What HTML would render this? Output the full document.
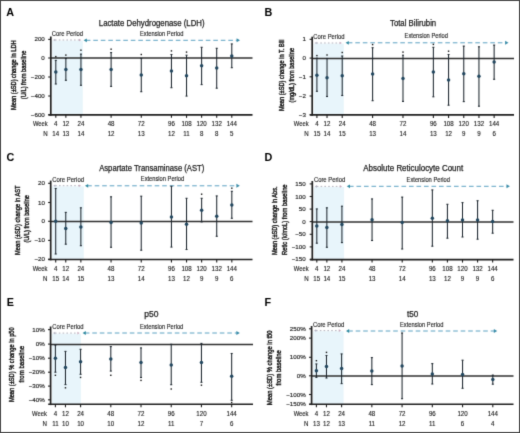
<!DOCTYPE html>
<html><head><meta charset="utf-8"><style>
html,body{margin:0;padding:0;background:#fff;}
body{width:520px;height:433px;overflow:hidden;}
svg{display:block;font-family:"Liberation Sans", sans-serif;will-change:transform;}
</style></head><body>
<svg width="520" height="433" viewBox="0 0 520 433">
<defs><filter id="bl" x="0" y="0" width="520" height="433" filterUnits="userSpaceOnUse" color-interpolation-filters="sRGB"><feConvolveMatrix order="3" kernelMatrix="0.0144 0.0912 0.0144 0.0912 0.5776 0.0912 0.0144 0.0912 0.0144" edgeMode="duplicate" preserveAlpha="true"/></filter></defs>
<g filter="url(#bl)">
<rect width="520" height="433" fill="#fff"/>
<rect x="0.5" y="0.5" width="519" height="432" fill="none" stroke="#444" stroke-width="1"/>
<text x="6.30" y="15.70" font-size="10.8" text-anchor="start" font-weight="bold" fill="#000">A</text>
<text x="98.80" y="25.60" font-size="8.2" text-anchor="start" font-weight="normal" fill="#202020" stroke="#202020" stroke-width="0.25" textLength="105.70" lengthAdjust="spacingAndGlyphs">Lactate Dehydrogenase (LDH)</text>
<rect x="52.30" y="40.60" width="30.50" height="74.25" fill="#e8f5fb"/>
<text transform="translate(15.68,75.20) rotate(-90)" x="0" y="0" font-size="7.8" font-weight="normal" text-anchor="middle" fill="#202020" stroke="#202020" stroke-width="0.45" textLength="69.60" lengthAdjust="spacingAndGlyphs">Mean (±SD) change in LDH</text>
<text transform="translate(25.98,74.90) rotate(-90)" x="0" y="0" font-size="7.8" font-weight="normal" text-anchor="middle" fill="#202020" stroke="#202020" stroke-width="0.45" textLength="48.50" lengthAdjust="spacingAndGlyphs">(U/L) from baseline</text>
<line x1="48.20" y1="39.40" x2="50.80" y2="39.40" stroke="#1e1e1e" stroke-width="1.1"/>
<text x="44.80" y="41.40" font-size="5.8" text-anchor="end" font-weight="normal" fill="#202020" stroke="#202020" stroke-width="0.15" textLength="10.35" lengthAdjust="spacingAndGlyphs">200</text>
<line x1="48.20" y1="58.00" x2="50.80" y2="58.00" stroke="#1e1e1e" stroke-width="1.1"/>
<text x="44.80" y="60.00" font-size="5.8" text-anchor="end" font-weight="normal" fill="#202020" stroke="#202020" stroke-width="0.15" textLength="3.45" lengthAdjust="spacingAndGlyphs">0</text>
<line x1="48.20" y1="77.00" x2="50.80" y2="77.00" stroke="#1e1e1e" stroke-width="1.1"/>
<text x="44.80" y="79.00" font-size="5.8" text-anchor="end" font-weight="normal" fill="#202020" stroke="#202020" stroke-width="0.15" textLength="13.98" lengthAdjust="spacingAndGlyphs">−200</text>
<line x1="48.20" y1="96.00" x2="50.80" y2="96.00" stroke="#1e1e1e" stroke-width="1.1"/>
<text x="44.80" y="98.00" font-size="5.8" text-anchor="end" font-weight="normal" fill="#202020" stroke="#202020" stroke-width="0.15" textLength="13.98" lengthAdjust="spacingAndGlyphs">−400</text>
<line x1="48.20" y1="114.70" x2="50.80" y2="114.70" stroke="#1e1e1e" stroke-width="1.1"/>
<text x="44.80" y="116.70" font-size="5.8" text-anchor="end" font-weight="normal" fill="#202020" stroke="#202020" stroke-width="0.15" textLength="13.98" lengthAdjust="spacingAndGlyphs">−600</text>
<text x="51.80" y="35.80" font-size="6.3" text-anchor="start" font-weight="normal" fill="#202020" stroke="#202020" stroke-width="0.12" textLength="31.30" lengthAdjust="spacingAndGlyphs">Core Period</text>
<text x="140.00" y="35.60" font-size="6.3" text-anchor="start" font-weight="normal" fill="#202020" stroke="#202020" stroke-width="0.12" textLength="43.40" lengthAdjust="spacingAndGlyphs">Extension Period</text>
<line x1="55.00" y1="40.00" x2="79.20" y2="40.00" stroke="#a8a8b4" stroke-width="0.9" stroke-dasharray="1.6,2.2"/>
<polygon points="53.00,40.00 55.20,38.68 55.20,41.32" fill="#b4b4c4"/>
<polygon points="81.20,40.00 79.00,38.68 79.00,41.32" fill="#c8a8bc"/>
<line x1="85.80" y1="40.30" x2="237.80" y2="40.30" stroke="#4896bb" stroke-width="0.9" stroke-dasharray="4.6,2.9"/>
<polygon points="83.60,40.30 86.80,38.38 86.80,42.22" fill="#2f8aa0"/>
<polygon points="240.00,40.30 236.60,38.26 236.60,42.34" fill="#3a8ca8"/>
<line x1="50.80" y1="58.00" x2="252.50" y2="58.00" stroke="#2e2e2e" stroke-width="1.5"/>
<line x1="50.80" y1="36.50" x2="50.80" y2="115.65" stroke="#1e1e1e" stroke-width="1.7"/>
<line x1="48.40" y1="114.85" x2="252.50" y2="114.85" stroke="#1e1e1e" stroke-width="1.6"/>
<line x1="55.80" y1="114.85" x2="55.80" y2="117.85" stroke="#1e1e1e" stroke-width="1.1"/>
<text x="55.80" y="126.40" font-size="6.3" text-anchor="middle" font-weight="normal" fill="#202020" stroke="#202020" stroke-width="0.12" textLength="3.43" lengthAdjust="spacingAndGlyphs">4</text>
<text x="55.80" y="135.90" font-size="6.3" text-anchor="middle" font-weight="normal" fill="#202020" stroke="#202020" stroke-width="0.12" textLength="6.87" lengthAdjust="spacingAndGlyphs">14</text>
<line x1="65.86" y1="114.85" x2="65.86" y2="117.85" stroke="#1e1e1e" stroke-width="1.1"/>
<text x="65.86" y="126.40" font-size="6.3" text-anchor="middle" font-weight="normal" fill="#202020" stroke="#202020" stroke-width="0.12" textLength="6.87" lengthAdjust="spacingAndGlyphs">12</text>
<text x="65.86" y="135.90" font-size="6.3" text-anchor="middle" font-weight="normal" fill="#202020" stroke="#202020" stroke-width="0.12" textLength="6.87" lengthAdjust="spacingAndGlyphs">13</text>
<line x1="80.94" y1="114.85" x2="80.94" y2="117.85" stroke="#1e1e1e" stroke-width="1.1"/>
<text x="80.94" y="126.40" font-size="6.3" text-anchor="middle" font-weight="normal" fill="#202020" stroke="#202020" stroke-width="0.12" textLength="6.87" lengthAdjust="spacingAndGlyphs">24</text>
<text x="80.94" y="135.90" font-size="6.3" text-anchor="middle" font-weight="normal" fill="#202020" stroke="#202020" stroke-width="0.12" textLength="6.87" lengthAdjust="spacingAndGlyphs">14</text>
<line x1="111.11" y1="114.85" x2="111.11" y2="117.85" stroke="#1e1e1e" stroke-width="1.1"/>
<text x="111.11" y="126.40" font-size="6.3" text-anchor="middle" font-weight="normal" fill="#202020" stroke="#202020" stroke-width="0.12" textLength="6.87" lengthAdjust="spacingAndGlyphs">48</text>
<text x="111.11" y="135.90" font-size="6.3" text-anchor="middle" font-weight="normal" fill="#202020" stroke="#202020" stroke-width="0.12" textLength="6.87" lengthAdjust="spacingAndGlyphs">12</text>
<line x1="141.28" y1="114.85" x2="141.28" y2="117.85" stroke="#1e1e1e" stroke-width="1.1"/>
<text x="141.28" y="126.40" font-size="6.3" text-anchor="middle" font-weight="normal" fill="#202020" stroke="#202020" stroke-width="0.12" textLength="6.87" lengthAdjust="spacingAndGlyphs">72</text>
<text x="141.28" y="135.90" font-size="6.3" text-anchor="middle" font-weight="normal" fill="#202020" stroke="#202020" stroke-width="0.12" textLength="6.87" lengthAdjust="spacingAndGlyphs">13</text>
<line x1="171.44" y1="114.85" x2="171.44" y2="117.85" stroke="#1e1e1e" stroke-width="1.1"/>
<text x="171.44" y="126.40" font-size="6.3" text-anchor="middle" font-weight="normal" fill="#202020" stroke="#202020" stroke-width="0.12" textLength="6.87" lengthAdjust="spacingAndGlyphs">96</text>
<text x="171.44" y="135.90" font-size="6.3" text-anchor="middle" font-weight="normal" fill="#202020" stroke="#202020" stroke-width="0.12" textLength="6.87" lengthAdjust="spacingAndGlyphs">12</text>
<line x1="186.53" y1="114.85" x2="186.53" y2="117.85" stroke="#1e1e1e" stroke-width="1.1"/>
<text x="186.53" y="126.40" font-size="6.3" text-anchor="middle" font-weight="normal" fill="#202020" stroke="#202020" stroke-width="0.12" textLength="10.30" lengthAdjust="spacingAndGlyphs">108</text>
<text x="186.53" y="135.90" font-size="6.3" text-anchor="middle" font-weight="normal" fill="#202020" stroke="#202020" stroke-width="0.12" textLength="6.41" lengthAdjust="spacingAndGlyphs">11</text>
<line x1="201.61" y1="114.85" x2="201.61" y2="117.85" stroke="#1e1e1e" stroke-width="1.1"/>
<text x="201.61" y="126.40" font-size="6.3" text-anchor="middle" font-weight="normal" fill="#202020" stroke="#202020" stroke-width="0.12" textLength="10.30" lengthAdjust="spacingAndGlyphs">120</text>
<text x="201.61" y="135.90" font-size="6.3" text-anchor="middle" font-weight="normal" fill="#202020" stroke="#202020" stroke-width="0.12" textLength="3.43" lengthAdjust="spacingAndGlyphs">8</text>
<line x1="216.70" y1="114.85" x2="216.70" y2="117.85" stroke="#1e1e1e" stroke-width="1.1"/>
<text x="216.70" y="126.40" font-size="6.3" text-anchor="middle" font-weight="normal" fill="#202020" stroke="#202020" stroke-width="0.12" textLength="10.30" lengthAdjust="spacingAndGlyphs">132</text>
<text x="216.70" y="135.90" font-size="6.3" text-anchor="middle" font-weight="normal" fill="#202020" stroke="#202020" stroke-width="0.12" textLength="3.43" lengthAdjust="spacingAndGlyphs">8</text>
<line x1="231.78" y1="114.85" x2="231.78" y2="117.85" stroke="#1e1e1e" stroke-width="1.1"/>
<text x="231.78" y="126.40" font-size="6.3" text-anchor="middle" font-weight="normal" fill="#202020" stroke="#202020" stroke-width="0.12" textLength="10.30" lengthAdjust="spacingAndGlyphs">144</text>
<text x="231.78" y="135.90" font-size="6.3" text-anchor="middle" font-weight="normal" fill="#202020" stroke="#202020" stroke-width="0.12" textLength="3.43" lengthAdjust="spacingAndGlyphs">5</text>
<text x="47.70" y="126.40" font-size="6.3" text-anchor="end" font-weight="normal" fill="#202020" stroke="#202020" stroke-width="0.12" textLength="14.80" lengthAdjust="spacingAndGlyphs">Week</text>
<text x="47.70" y="135.90" font-size="6.3" text-anchor="end" font-weight="normal" fill="#202020" stroke="#202020" stroke-width="0.12" textLength="4.46" lengthAdjust="spacingAndGlyphs">N</text>
<line x1="55.80" y1="60.40" x2="55.80" y2="84.00" stroke="#1d262e" stroke-width="1.05"/>
<line x1="54.80" y1="60.40" x2="56.80" y2="60.40" stroke="#1d262e" stroke-width="1.1"/>
<line x1="54.80" y1="84.00" x2="56.80" y2="84.00" stroke="#1d262e" stroke-width="1.1"/>
<rect x="55.10" y="55.90" width="1.4" height="1.4" fill="#111"/>
<circle cx="55.80" cy="72.00" r="1.75" fill="#22475f"/>
<line x1="65.86" y1="58.50" x2="65.86" y2="80.30" stroke="#1d262e" stroke-width="1.05"/>
<line x1="64.86" y1="58.50" x2="66.86" y2="58.50" stroke="#1d262e" stroke-width="1.1"/>
<line x1="64.86" y1="80.30" x2="66.86" y2="80.30" stroke="#1d262e" stroke-width="1.1"/>
<rect x="65.16" y="54.40" width="1.4" height="1.4" fill="#111"/>
<circle cx="65.86" cy="69.40" r="1.75" fill="#22475f"/>
<line x1="80.94" y1="54.10" x2="80.94" y2="85.30" stroke="#1d262e" stroke-width="1.05"/>
<line x1="79.94" y1="54.10" x2="81.94" y2="54.10" stroke="#1d262e" stroke-width="1.1"/>
<line x1="79.94" y1="85.30" x2="81.94" y2="85.30" stroke="#1d262e" stroke-width="1.1"/>
<rect x="80.24" y="49.50" width="1.4" height="1.4" fill="#111"/>
<circle cx="80.94" cy="69.60" r="1.75" fill="#22475f"/>
<line x1="111.11" y1="52.60" x2="111.11" y2="86.40" stroke="#1d262e" stroke-width="1.05"/>
<line x1="110.11" y1="52.60" x2="112.11" y2="52.60" stroke="#1d262e" stroke-width="1.1"/>
<line x1="110.11" y1="86.40" x2="112.11" y2="86.40" stroke="#1d262e" stroke-width="1.1"/>
<rect x="110.41" y="48.50" width="1.4" height="1.4" fill="#111"/>
<circle cx="111.11" cy="69.40" r="1.75" fill="#22475f"/>
<line x1="141.28" y1="58.40" x2="141.28" y2="91.70" stroke="#1d262e" stroke-width="1.05"/>
<line x1="140.28" y1="58.40" x2="142.28" y2="58.40" stroke="#1d262e" stroke-width="1.1"/>
<line x1="140.28" y1="91.70" x2="142.28" y2="91.70" stroke="#1d262e" stroke-width="1.1"/>
<rect x="140.58" y="53.80" width="1.4" height="1.4" fill="#111"/>
<circle cx="141.28" cy="75.00" r="1.75" fill="#22475f"/>
<line x1="171.44" y1="54.50" x2="171.44" y2="87.70" stroke="#1d262e" stroke-width="1.05"/>
<line x1="170.44" y1="54.50" x2="172.44" y2="54.50" stroke="#1d262e" stroke-width="1.1"/>
<line x1="170.44" y1="87.70" x2="172.44" y2="87.70" stroke="#1d262e" stroke-width="1.1"/>
<rect x="170.74" y="50.20" width="1.4" height="1.4" fill="#111"/>
<circle cx="171.44" cy="71.10" r="1.75" fill="#22475f"/>
<line x1="186.53" y1="55.20" x2="186.53" y2="96.10" stroke="#1d262e" stroke-width="1.05"/>
<line x1="185.53" y1="55.20" x2="187.53" y2="55.20" stroke="#1d262e" stroke-width="1.1"/>
<line x1="185.53" y1="96.10" x2="187.53" y2="96.10" stroke="#1d262e" stroke-width="1.1"/>
<rect x="185.83" y="51.40" width="1.4" height="1.4" fill="#111"/>
<circle cx="186.53" cy="75.70" r="1.75" fill="#22475f"/>
<line x1="201.61" y1="47.30" x2="201.61" y2="84.60" stroke="#1d262e" stroke-width="1.05"/>
<line x1="200.61" y1="47.30" x2="202.61" y2="47.30" stroke="#1d262e" stroke-width="1.1"/>
<line x1="200.61" y1="84.60" x2="202.61" y2="84.60" stroke="#1d262e" stroke-width="1.1"/>
<circle cx="201.61" cy="65.80" r="1.75" fill="#22475f"/>
<line x1="216.70" y1="48.30" x2="216.70" y2="88.20" stroke="#1d262e" stroke-width="1.05"/>
<line x1="215.70" y1="48.30" x2="217.70" y2="48.30" stroke="#1d262e" stroke-width="1.1"/>
<line x1="215.70" y1="88.20" x2="217.70" y2="88.20" stroke="#1d262e" stroke-width="1.1"/>
<circle cx="216.70" cy="68.00" r="1.75" fill="#22475f"/>
<line x1="231.78" y1="43.90" x2="231.78" y2="67.70" stroke="#1d262e" stroke-width="1.05"/>
<line x1="230.78" y1="43.90" x2="232.78" y2="43.90" stroke="#1d262e" stroke-width="1.1"/>
<line x1="230.78" y1="67.70" x2="232.78" y2="67.70" stroke="#1d262e" stroke-width="1.1"/>
<circle cx="231.78" cy="56.00" r="1.75" fill="#22475f"/>
<text x="264.50" y="15.80" font-size="10.8" text-anchor="start" font-weight="bold" fill="#000">B</text>
<text x="390.00" y="25.50" font-size="8.2" text-anchor="start" font-weight="normal" fill="#202020" stroke="#202020" stroke-width="0.25" textLength="46.20" lengthAdjust="spacingAndGlyphs">Total Bilirubin</text>
<rect x="313.70" y="43.60" width="30.10" height="71.30" fill="#e8f5fb"/>
<text transform="translate(283.88,75.20) rotate(-90)" x="0" y="0" font-size="7.8" font-weight="normal" text-anchor="middle" fill="#202020" stroke="#202020" stroke-width="0.45" textLength="71.60" lengthAdjust="spacingAndGlyphs">Mean (±SD) change in T. Bili</text>
<text transform="translate(293.68,75.20) rotate(-90)" x="0" y="0" font-size="7.8" font-weight="normal" text-anchor="middle" fill="#202020" stroke="#202020" stroke-width="0.45" textLength="54.50" lengthAdjust="spacingAndGlyphs">(mg/dL) from baseline</text>
<line x1="309.60" y1="39.30" x2="312.20" y2="39.30" stroke="#1e1e1e" stroke-width="1.1"/>
<text x="305.90" y="41.30" font-size="5.8" text-anchor="end" font-weight="normal" fill="#202020" stroke="#202020" stroke-width="0.15" textLength="3.45" lengthAdjust="spacingAndGlyphs">1</text>
<line x1="309.60" y1="58.10" x2="312.20" y2="58.10" stroke="#1e1e1e" stroke-width="1.1"/>
<text x="305.90" y="60.10" font-size="5.8" text-anchor="end" font-weight="normal" fill="#202020" stroke="#202020" stroke-width="0.15" textLength="3.45" lengthAdjust="spacingAndGlyphs">0</text>
<line x1="309.60" y1="76.80" x2="312.20" y2="76.80" stroke="#1e1e1e" stroke-width="1.1"/>
<text x="305.90" y="78.80" font-size="5.8" text-anchor="end" font-weight="normal" fill="#202020" stroke="#202020" stroke-width="0.15" textLength="7.08" lengthAdjust="spacingAndGlyphs">−1</text>
<line x1="309.60" y1="96.00" x2="312.20" y2="96.00" stroke="#1e1e1e" stroke-width="1.1"/>
<text x="305.90" y="98.00" font-size="5.8" text-anchor="end" font-weight="normal" fill="#202020" stroke="#202020" stroke-width="0.15" textLength="7.08" lengthAdjust="spacingAndGlyphs">−2</text>
<line x1="309.60" y1="114.70" x2="312.20" y2="114.70" stroke="#1e1e1e" stroke-width="1.1"/>
<text x="305.90" y="116.70" font-size="5.8" text-anchor="end" font-weight="normal" fill="#202020" stroke="#202020" stroke-width="0.15" textLength="7.08" lengthAdjust="spacingAndGlyphs">−3</text>
<text x="313.30" y="38.70" font-size="6.3" text-anchor="start" font-weight="normal" fill="#202020" stroke="#202020" stroke-width="0.12" textLength="31.30" lengthAdjust="spacingAndGlyphs">Core Period</text>
<text x="404.60" y="38.20" font-size="6.3" text-anchor="start" font-weight="normal" fill="#202020" stroke="#202020" stroke-width="0.12" textLength="43.40" lengthAdjust="spacingAndGlyphs">Extension Period</text>
<line x1="316.50" y1="43.00" x2="339.80" y2="43.00" stroke="#a8a8b4" stroke-width="0.9" stroke-dasharray="1.6,2.2"/>
<polygon points="314.50,43.00 316.70,41.68 316.70,44.32" fill="#b4b4c4"/>
<polygon points="341.80,43.00 339.60,41.68 339.60,44.32" fill="#c8a8bc"/>
<line x1="347.80" y1="42.80" x2="506.30" y2="42.80" stroke="#4896bb" stroke-width="0.9" stroke-dasharray="4.6,2.9"/>
<polygon points="345.60,42.80 348.80,40.88 348.80,44.72" fill="#2f8aa0"/>
<polygon points="508.50,42.80 505.10,40.76 505.10,44.84" fill="#3a8ca8"/>
<line x1="312.20" y1="58.50" x2="514.00" y2="58.50" stroke="#2e2e2e" stroke-width="1.5"/>
<line x1="312.20" y1="36.70" x2="312.20" y2="115.70" stroke="#1e1e1e" stroke-width="1.7"/>
<line x1="309.80" y1="114.90" x2="514.00" y2="114.90" stroke="#1e1e1e" stroke-width="1.6"/>
<line x1="316.90" y1="114.90" x2="316.90" y2="117.90" stroke="#1e1e1e" stroke-width="1.1"/>
<text x="316.90" y="126.40" font-size="6.3" text-anchor="middle" font-weight="normal" fill="#202020" stroke="#202020" stroke-width="0.12" textLength="3.43" lengthAdjust="spacingAndGlyphs">4</text>
<text x="316.90" y="135.90" font-size="6.3" text-anchor="middle" font-weight="normal" fill="#202020" stroke="#202020" stroke-width="0.12" textLength="6.87" lengthAdjust="spacingAndGlyphs">15</text>
<line x1="327.03" y1="114.90" x2="327.03" y2="117.90" stroke="#1e1e1e" stroke-width="1.1"/>
<text x="327.03" y="126.40" font-size="6.3" text-anchor="middle" font-weight="normal" fill="#202020" stroke="#202020" stroke-width="0.12" textLength="6.87" lengthAdjust="spacingAndGlyphs">12</text>
<text x="327.03" y="135.90" font-size="6.3" text-anchor="middle" font-weight="normal" fill="#202020" stroke="#202020" stroke-width="0.12" textLength="6.87" lengthAdjust="spacingAndGlyphs">14</text>
<line x1="342.22" y1="114.90" x2="342.22" y2="117.90" stroke="#1e1e1e" stroke-width="1.1"/>
<text x="342.22" y="126.40" font-size="6.3" text-anchor="middle" font-weight="normal" fill="#202020" stroke="#202020" stroke-width="0.12" textLength="6.87" lengthAdjust="spacingAndGlyphs">24</text>
<text x="342.22" y="135.90" font-size="6.3" text-anchor="middle" font-weight="normal" fill="#202020" stroke="#202020" stroke-width="0.12" textLength="6.87" lengthAdjust="spacingAndGlyphs">15</text>
<line x1="372.60" y1="114.90" x2="372.60" y2="117.90" stroke="#1e1e1e" stroke-width="1.1"/>
<text x="372.60" y="126.40" font-size="6.3" text-anchor="middle" font-weight="normal" fill="#202020" stroke="#202020" stroke-width="0.12" textLength="6.87" lengthAdjust="spacingAndGlyphs">48</text>
<text x="372.60" y="135.90" font-size="6.3" text-anchor="middle" font-weight="normal" fill="#202020" stroke="#202020" stroke-width="0.12" textLength="6.87" lengthAdjust="spacingAndGlyphs">13</text>
<line x1="402.99" y1="114.90" x2="402.99" y2="117.90" stroke="#1e1e1e" stroke-width="1.1"/>
<text x="402.99" y="126.40" font-size="6.3" text-anchor="middle" font-weight="normal" fill="#202020" stroke="#202020" stroke-width="0.12" textLength="6.87" lengthAdjust="spacingAndGlyphs">72</text>
<text x="402.99" y="135.90" font-size="6.3" text-anchor="middle" font-weight="normal" fill="#202020" stroke="#202020" stroke-width="0.12" textLength="6.87" lengthAdjust="spacingAndGlyphs">14</text>
<line x1="433.37" y1="114.90" x2="433.37" y2="117.90" stroke="#1e1e1e" stroke-width="1.1"/>
<text x="433.37" y="126.40" font-size="6.3" text-anchor="middle" font-weight="normal" fill="#202020" stroke="#202020" stroke-width="0.12" textLength="6.87" lengthAdjust="spacingAndGlyphs">96</text>
<text x="433.37" y="135.90" font-size="6.3" text-anchor="middle" font-weight="normal" fill="#202020" stroke="#202020" stroke-width="0.12" textLength="6.87" lengthAdjust="spacingAndGlyphs">13</text>
<line x1="448.56" y1="114.90" x2="448.56" y2="117.90" stroke="#1e1e1e" stroke-width="1.1"/>
<text x="448.56" y="126.40" font-size="6.3" text-anchor="middle" font-weight="normal" fill="#202020" stroke="#202020" stroke-width="0.12" textLength="10.30" lengthAdjust="spacingAndGlyphs">108</text>
<text x="448.56" y="135.90" font-size="6.3" text-anchor="middle" font-weight="normal" fill="#202020" stroke="#202020" stroke-width="0.12" textLength="6.87" lengthAdjust="spacingAndGlyphs">12</text>
<line x1="463.76" y1="114.90" x2="463.76" y2="117.90" stroke="#1e1e1e" stroke-width="1.1"/>
<text x="463.76" y="126.40" font-size="6.3" text-anchor="middle" font-weight="normal" fill="#202020" stroke="#202020" stroke-width="0.12" textLength="10.30" lengthAdjust="spacingAndGlyphs">120</text>
<text x="463.76" y="135.90" font-size="6.3" text-anchor="middle" font-weight="normal" fill="#202020" stroke="#202020" stroke-width="0.12" textLength="3.43" lengthAdjust="spacingAndGlyphs">9</text>
<line x1="478.95" y1="114.90" x2="478.95" y2="117.90" stroke="#1e1e1e" stroke-width="1.1"/>
<text x="478.95" y="126.40" font-size="6.3" text-anchor="middle" font-weight="normal" fill="#202020" stroke="#202020" stroke-width="0.12" textLength="10.30" lengthAdjust="spacingAndGlyphs">132</text>
<text x="478.95" y="135.90" font-size="6.3" text-anchor="middle" font-weight="normal" fill="#202020" stroke="#202020" stroke-width="0.12" textLength="3.43" lengthAdjust="spacingAndGlyphs">9</text>
<line x1="494.14" y1="114.90" x2="494.14" y2="117.90" stroke="#1e1e1e" stroke-width="1.1"/>
<text x="494.14" y="126.40" font-size="6.3" text-anchor="middle" font-weight="normal" fill="#202020" stroke="#202020" stroke-width="0.12" textLength="10.30" lengthAdjust="spacingAndGlyphs">144</text>
<text x="494.14" y="135.90" font-size="6.3" text-anchor="middle" font-weight="normal" fill="#202020" stroke="#202020" stroke-width="0.12" textLength="3.43" lengthAdjust="spacingAndGlyphs">6</text>
<text x="308.60" y="126.40" font-size="6.3" text-anchor="end" font-weight="normal" fill="#202020" stroke="#202020" stroke-width="0.12" textLength="14.80" lengthAdjust="spacingAndGlyphs">Week</text>
<text x="308.60" y="135.90" font-size="6.3" text-anchor="end" font-weight="normal" fill="#202020" stroke="#202020" stroke-width="0.12" textLength="4.46" lengthAdjust="spacingAndGlyphs">N</text>
<line x1="316.90" y1="58.20" x2="316.90" y2="91.30" stroke="#1d262e" stroke-width="1.05"/>
<line x1="315.90" y1="58.20" x2="317.90" y2="58.20" stroke="#1d262e" stroke-width="1.1"/>
<line x1="315.90" y1="91.30" x2="317.90" y2="91.30" stroke="#1d262e" stroke-width="1.1"/>
<rect x="316.20" y="54.90" width="1.4" height="1.4" fill="#111"/>
<circle cx="316.90" cy="75.30" r="1.75" fill="#22475f"/>
<line x1="327.03" y1="58.50" x2="327.03" y2="96.50" stroke="#1d262e" stroke-width="1.05"/>
<line x1="326.03" y1="58.50" x2="328.03" y2="58.50" stroke="#1d262e" stroke-width="1.1"/>
<line x1="326.03" y1="96.50" x2="328.03" y2="96.50" stroke="#1d262e" stroke-width="1.1"/>
<rect x="326.33" y="54.30" width="1.4" height="1.4" fill="#111"/>
<circle cx="327.03" cy="77.80" r="1.75" fill="#22475f"/>
<line x1="342.22" y1="56.00" x2="342.22" y2="95.50" stroke="#1d262e" stroke-width="1.05"/>
<line x1="341.22" y1="56.00" x2="343.22" y2="56.00" stroke="#1d262e" stroke-width="1.1"/>
<line x1="341.22" y1="95.50" x2="343.22" y2="95.50" stroke="#1d262e" stroke-width="1.1"/>
<rect x="341.52" y="51.80" width="1.4" height="1.4" fill="#111"/>
<circle cx="342.22" cy="75.70" r="1.75" fill="#22475f"/>
<line x1="372.60" y1="47.70" x2="372.60" y2="100.70" stroke="#1d262e" stroke-width="1.05"/>
<line x1="371.60" y1="47.70" x2="373.60" y2="47.70" stroke="#1d262e" stroke-width="1.1"/>
<line x1="371.60" y1="100.70" x2="373.60" y2="100.70" stroke="#1d262e" stroke-width="1.1"/>
<rect x="371.90" y="43.90" width="1.4" height="1.4" fill="#111"/>
<circle cx="372.60" cy="74.10" r="1.75" fill="#22475f"/>
<line x1="402.99" y1="55.20" x2="402.99" y2="101.40" stroke="#1d262e" stroke-width="1.05"/>
<line x1="401.99" y1="55.20" x2="403.99" y2="55.20" stroke="#1d262e" stroke-width="1.1"/>
<line x1="401.99" y1="101.40" x2="403.99" y2="101.40" stroke="#1d262e" stroke-width="1.1"/>
<rect x="402.29" y="51.40" width="1.4" height="1.4" fill="#111"/>
<circle cx="402.99" cy="78.60" r="1.75" fill="#22475f"/>
<line x1="433.37" y1="47.30" x2="433.37" y2="96.80" stroke="#1d262e" stroke-width="1.05"/>
<line x1="432.37" y1="47.30" x2="434.37" y2="47.30" stroke="#1d262e" stroke-width="1.1"/>
<line x1="432.37" y1="96.80" x2="434.37" y2="96.80" stroke="#1d262e" stroke-width="1.1"/>
<rect x="432.67" y="43.70" width="1.4" height="1.4" fill="#111"/>
<circle cx="433.37" cy="72.10" r="1.75" fill="#22475f"/>
<line x1="448.56" y1="54.50" x2="448.56" y2="105.20" stroke="#1d262e" stroke-width="1.05"/>
<line x1="447.56" y1="54.50" x2="449.56" y2="54.50" stroke="#1d262e" stroke-width="1.1"/>
<line x1="447.56" y1="105.20" x2="449.56" y2="105.20" stroke="#1d262e" stroke-width="1.1"/>
<rect x="447.86" y="50.50" width="1.4" height="1.4" fill="#111"/>
<circle cx="448.56" cy="80.00" r="1.75" fill="#22475f"/>
<line x1="463.76" y1="46.10" x2="463.76" y2="101.60" stroke="#1d262e" stroke-width="1.05"/>
<line x1="462.76" y1="46.10" x2="464.76" y2="46.10" stroke="#1d262e" stroke-width="1.1"/>
<line x1="462.76" y1="101.60" x2="464.76" y2="101.60" stroke="#1d262e" stroke-width="1.1"/>
<circle cx="463.76" cy="73.80" r="1.75" fill="#22475f"/>
<line x1="478.95" y1="46.80" x2="478.95" y2="106.20" stroke="#1d262e" stroke-width="1.05"/>
<line x1="477.95" y1="46.80" x2="479.95" y2="46.80" stroke="#1d262e" stroke-width="1.1"/>
<line x1="477.95" y1="106.20" x2="479.95" y2="106.20" stroke="#1d262e" stroke-width="1.1"/>
<circle cx="478.95" cy="76.20" r="1.75" fill="#22475f"/>
<line x1="494.14" y1="45.10" x2="494.14" y2="79.30" stroke="#1d262e" stroke-width="1.05"/>
<line x1="493.14" y1="45.10" x2="495.14" y2="45.10" stroke="#1d262e" stroke-width="1.1"/>
<line x1="493.14" y1="79.30" x2="495.14" y2="79.30" stroke="#1d262e" stroke-width="1.1"/>
<circle cx="494.14" cy="62.00" r="1.75" fill="#22475f"/>
<text x="6.50" y="161.10" font-size="10.8" text-anchor="start" font-weight="bold" fill="#000">C</text>
<text x="99.20" y="170.80" font-size="8.2" text-anchor="start" font-weight="normal" fill="#202020" stroke="#202020" stroke-width="0.25" textLength="105.10" lengthAdjust="spacingAndGlyphs">Aspartate Transaminase (AST)</text>
<rect x="52.20" y="186.30" width="31.60" height="73.20" fill="#e8f5fb"/>
<text transform="translate(19.88,220.20) rotate(-90)" x="0" y="0" font-size="7.8" font-weight="normal" text-anchor="middle" fill="#202020" stroke="#202020" stroke-width="0.45" textLength="69.60" lengthAdjust="spacingAndGlyphs">Mean (±SD) change in AST</text>
<text transform="translate(28.98,218.80) rotate(-90)" x="0" y="0" font-size="7.8" font-weight="normal" text-anchor="middle" fill="#202020" stroke="#202020" stroke-width="0.45" textLength="47.50" lengthAdjust="spacingAndGlyphs">(U/L) from baseline</text>
<line x1="48.10" y1="183.30" x2="50.70" y2="183.30" stroke="#1e1e1e" stroke-width="1.1"/>
<text x="45.00" y="185.30" font-size="5.8" text-anchor="end" font-weight="normal" fill="#202020" stroke="#202020" stroke-width="0.15" textLength="6.90" lengthAdjust="spacingAndGlyphs">20</text>
<line x1="48.10" y1="202.50" x2="50.70" y2="202.50" stroke="#1e1e1e" stroke-width="1.1"/>
<text x="45.00" y="204.50" font-size="5.8" text-anchor="end" font-weight="normal" fill="#202020" stroke="#202020" stroke-width="0.15" textLength="6.90" lengthAdjust="spacingAndGlyphs">10</text>
<line x1="48.10" y1="221.30" x2="50.70" y2="221.30" stroke="#1e1e1e" stroke-width="1.1"/>
<text x="45.00" y="223.30" font-size="5.8" text-anchor="end" font-weight="normal" fill="#202020" stroke="#202020" stroke-width="0.15" textLength="3.45" lengthAdjust="spacingAndGlyphs">0</text>
<line x1="48.10" y1="240.40" x2="50.70" y2="240.40" stroke="#1e1e1e" stroke-width="1.1"/>
<text x="45.00" y="242.40" font-size="5.8" text-anchor="end" font-weight="normal" fill="#202020" stroke="#202020" stroke-width="0.15" textLength="10.53" lengthAdjust="spacingAndGlyphs">−10</text>
<line x1="48.10" y1="259.30" x2="50.70" y2="259.30" stroke="#1e1e1e" stroke-width="1.1"/>
<text x="45.00" y="261.30" font-size="5.8" text-anchor="end" font-weight="normal" fill="#202020" stroke="#202020" stroke-width="0.15" textLength="10.53" lengthAdjust="spacingAndGlyphs">−20</text>
<text x="52.20" y="182.00" font-size="6.3" text-anchor="start" font-weight="normal" fill="#202020" stroke="#202020" stroke-width="0.12" textLength="31.90" lengthAdjust="spacingAndGlyphs">Core Period</text>
<text x="140.80" y="181.30" font-size="6.3" text-anchor="start" font-weight="normal" fill="#202020" stroke="#202020" stroke-width="0.12" textLength="43.40" lengthAdjust="spacingAndGlyphs">Extension Period</text>
<line x1="55.20" y1="185.70" x2="79.00" y2="185.70" stroke="#a8a8b4" stroke-width="0.9" stroke-dasharray="1.6,2.2"/>
<polygon points="53.20,185.70 55.40,184.38 55.40,187.02" fill="#b4b4c4"/>
<polygon points="81.00,185.70 78.80,184.38 78.80,187.02" fill="#c8a8bc"/>
<line x1="87.20" y1="185.80" x2="237.60" y2="185.80" stroke="#4896bb" stroke-width="0.9" stroke-dasharray="4.6,2.9"/>
<polygon points="85.00,185.80 88.20,183.88 88.20,187.72" fill="#2f8aa0"/>
<polygon points="239.80,185.80 236.40,183.76 236.40,187.84" fill="#3a8ca8"/>
<line x1="50.70" y1="221.50" x2="252.50" y2="221.50" stroke="#2e2e2e" stroke-width="1.5"/>
<line x1="50.70" y1="180.60" x2="50.70" y2="260.30" stroke="#1e1e1e" stroke-width="1.7"/>
<line x1="48.30" y1="259.50" x2="252.50" y2="259.50" stroke="#1e1e1e" stroke-width="1.6"/>
<line x1="55.70" y1="259.50" x2="55.70" y2="262.50" stroke="#1e1e1e" stroke-width="1.1"/>
<text x="55.70" y="270.80" font-size="6.3" text-anchor="middle" font-weight="normal" fill="#202020" stroke="#202020" stroke-width="0.12" textLength="3.43" lengthAdjust="spacingAndGlyphs">4</text>
<text x="55.70" y="280.70" font-size="6.3" text-anchor="middle" font-weight="normal" fill="#202020" stroke="#202020" stroke-width="0.12" textLength="6.87" lengthAdjust="spacingAndGlyphs">15</text>
<line x1="65.76" y1="259.50" x2="65.76" y2="262.50" stroke="#1e1e1e" stroke-width="1.1"/>
<text x="65.76" y="270.80" font-size="6.3" text-anchor="middle" font-weight="normal" fill="#202020" stroke="#202020" stroke-width="0.12" textLength="6.87" lengthAdjust="spacingAndGlyphs">12</text>
<text x="65.76" y="280.70" font-size="6.3" text-anchor="middle" font-weight="normal" fill="#202020" stroke="#202020" stroke-width="0.12" textLength="6.87" lengthAdjust="spacingAndGlyphs">14</text>
<line x1="80.86" y1="259.50" x2="80.86" y2="262.50" stroke="#1e1e1e" stroke-width="1.1"/>
<text x="80.86" y="270.80" font-size="6.3" text-anchor="middle" font-weight="normal" fill="#202020" stroke="#202020" stroke-width="0.12" textLength="6.87" lengthAdjust="spacingAndGlyphs">24</text>
<text x="80.86" y="280.70" font-size="6.3" text-anchor="middle" font-weight="normal" fill="#202020" stroke="#202020" stroke-width="0.12" textLength="6.87" lengthAdjust="spacingAndGlyphs">15</text>
<line x1="111.05" y1="259.50" x2="111.05" y2="262.50" stroke="#1e1e1e" stroke-width="1.1"/>
<text x="111.05" y="270.80" font-size="6.3" text-anchor="middle" font-weight="normal" fill="#202020" stroke="#202020" stroke-width="0.12" textLength="6.87" lengthAdjust="spacingAndGlyphs">48</text>
<text x="111.05" y="280.70" font-size="6.3" text-anchor="middle" font-weight="normal" fill="#202020" stroke="#202020" stroke-width="0.12" textLength="6.87" lengthAdjust="spacingAndGlyphs">13</text>
<line x1="141.24" y1="259.50" x2="141.24" y2="262.50" stroke="#1e1e1e" stroke-width="1.1"/>
<text x="141.24" y="270.80" font-size="6.3" text-anchor="middle" font-weight="normal" fill="#202020" stroke="#202020" stroke-width="0.12" textLength="6.87" lengthAdjust="spacingAndGlyphs">72</text>
<text x="141.24" y="280.70" font-size="6.3" text-anchor="middle" font-weight="normal" fill="#202020" stroke="#202020" stroke-width="0.12" textLength="6.87" lengthAdjust="spacingAndGlyphs">14</text>
<line x1="171.44" y1="259.50" x2="171.44" y2="262.50" stroke="#1e1e1e" stroke-width="1.1"/>
<text x="171.44" y="270.80" font-size="6.3" text-anchor="middle" font-weight="normal" fill="#202020" stroke="#202020" stroke-width="0.12" textLength="6.87" lengthAdjust="spacingAndGlyphs">96</text>
<text x="171.44" y="280.70" font-size="6.3" text-anchor="middle" font-weight="normal" fill="#202020" stroke="#202020" stroke-width="0.12" textLength="6.87" lengthAdjust="spacingAndGlyphs">13</text>
<line x1="186.53" y1="259.50" x2="186.53" y2="262.50" stroke="#1e1e1e" stroke-width="1.1"/>
<text x="186.53" y="270.80" font-size="6.3" text-anchor="middle" font-weight="normal" fill="#202020" stroke="#202020" stroke-width="0.12" textLength="10.30" lengthAdjust="spacingAndGlyphs">108</text>
<text x="186.53" y="280.70" font-size="6.3" text-anchor="middle" font-weight="normal" fill="#202020" stroke="#202020" stroke-width="0.12" textLength="6.87" lengthAdjust="spacingAndGlyphs">12</text>
<line x1="201.63" y1="259.50" x2="201.63" y2="262.50" stroke="#1e1e1e" stroke-width="1.1"/>
<text x="201.63" y="270.80" font-size="6.3" text-anchor="middle" font-weight="normal" fill="#202020" stroke="#202020" stroke-width="0.12" textLength="10.30" lengthAdjust="spacingAndGlyphs">120</text>
<text x="201.63" y="280.70" font-size="6.3" text-anchor="middle" font-weight="normal" fill="#202020" stroke="#202020" stroke-width="0.12" textLength="3.43" lengthAdjust="spacingAndGlyphs">9</text>
<line x1="216.72" y1="259.50" x2="216.72" y2="262.50" stroke="#1e1e1e" stroke-width="1.1"/>
<text x="216.72" y="270.80" font-size="6.3" text-anchor="middle" font-weight="normal" fill="#202020" stroke="#202020" stroke-width="0.12" textLength="10.30" lengthAdjust="spacingAndGlyphs">132</text>
<text x="216.72" y="280.70" font-size="6.3" text-anchor="middle" font-weight="normal" fill="#202020" stroke="#202020" stroke-width="0.12" textLength="3.43" lengthAdjust="spacingAndGlyphs">9</text>
<line x1="231.82" y1="259.50" x2="231.82" y2="262.50" stroke="#1e1e1e" stroke-width="1.1"/>
<text x="231.82" y="270.80" font-size="6.3" text-anchor="middle" font-weight="normal" fill="#202020" stroke="#202020" stroke-width="0.12" textLength="10.30" lengthAdjust="spacingAndGlyphs">144</text>
<text x="231.82" y="280.70" font-size="6.3" text-anchor="middle" font-weight="normal" fill="#202020" stroke="#202020" stroke-width="0.12" textLength="3.43" lengthAdjust="spacingAndGlyphs">6</text>
<text x="47.50" y="270.80" font-size="6.3" text-anchor="end" font-weight="normal" fill="#202020" stroke="#202020" stroke-width="0.12" textLength="14.80" lengthAdjust="spacingAndGlyphs">Week</text>
<text x="47.50" y="280.70" font-size="6.3" text-anchor="end" font-weight="normal" fill="#202020" stroke="#202020" stroke-width="0.12" textLength="4.46" lengthAdjust="spacingAndGlyphs">N</text>
<line x1="55.70" y1="188.50" x2="55.70" y2="254.00" stroke="#1d262e" stroke-width="1.05"/>
<line x1="54.70" y1="188.50" x2="56.70" y2="188.50" stroke="#1d262e" stroke-width="1.1"/>
<line x1="54.70" y1="254.00" x2="56.70" y2="254.00" stroke="#1d262e" stroke-width="1.1"/>
<circle cx="55.70" cy="221.20" r="1.75" fill="#22475f"/>
<line x1="65.76" y1="212.40" x2="65.76" y2="244.20" stroke="#1d262e" stroke-width="1.05"/>
<line x1="64.76" y1="212.40" x2="66.76" y2="212.40" stroke="#1d262e" stroke-width="1.1"/>
<line x1="64.76" y1="244.20" x2="66.76" y2="244.20" stroke="#1d262e" stroke-width="1.1"/>
<circle cx="65.76" cy="228.40" r="1.75" fill="#22475f"/>
<line x1="80.86" y1="207.80" x2="80.86" y2="245.70" stroke="#1d262e" stroke-width="1.05"/>
<line x1="79.86" y1="207.80" x2="81.86" y2="207.80" stroke="#1d262e" stroke-width="1.1"/>
<line x1="79.86" y1="245.70" x2="81.86" y2="245.70" stroke="#1d262e" stroke-width="1.1"/>
<circle cx="80.86" cy="227.00" r="1.75" fill="#22475f"/>
<line x1="111.05" y1="196.80" x2="111.05" y2="247.30" stroke="#1d262e" stroke-width="1.05"/>
<line x1="110.05" y1="196.80" x2="112.05" y2="196.80" stroke="#1d262e" stroke-width="1.1"/>
<line x1="110.05" y1="247.30" x2="112.05" y2="247.30" stroke="#1d262e" stroke-width="1.1"/>
<circle cx="111.05" cy="222.40" r="1.75" fill="#22475f"/>
<line x1="141.24" y1="196.20" x2="141.24" y2="250.20" stroke="#1d262e" stroke-width="1.05"/>
<line x1="140.24" y1="196.20" x2="142.24" y2="196.20" stroke="#1d262e" stroke-width="1.1"/>
<line x1="140.24" y1="250.20" x2="142.24" y2="250.20" stroke="#1d262e" stroke-width="1.1"/>
<circle cx="141.24" cy="223.10" r="1.75" fill="#22475f"/>
<line x1="171.44" y1="186.30" x2="171.44" y2="247.10" stroke="#1d262e" stroke-width="1.05"/>
<line x1="170.44" y1="186.30" x2="172.44" y2="186.30" stroke="#1d262e" stroke-width="1.1"/>
<line x1="170.44" y1="247.10" x2="172.44" y2="247.10" stroke="#1d262e" stroke-width="1.1"/>
<circle cx="171.44" cy="217.10" r="1.75" fill="#22475f"/>
<line x1="186.53" y1="198.30" x2="186.53" y2="249.50" stroke="#1d262e" stroke-width="1.05"/>
<line x1="185.53" y1="198.30" x2="187.53" y2="198.30" stroke="#1d262e" stroke-width="1.1"/>
<line x1="185.53" y1="249.50" x2="187.53" y2="249.50" stroke="#1d262e" stroke-width="1.1"/>
<circle cx="186.53" cy="224.30" r="1.75" fill="#22475f"/>
<line x1="201.63" y1="198.30" x2="201.63" y2="221.90" stroke="#1d262e" stroke-width="1.05"/>
<line x1="200.63" y1="198.30" x2="202.63" y2="198.30" stroke="#1d262e" stroke-width="1.1"/>
<line x1="200.63" y1="221.90" x2="202.63" y2="221.90" stroke="#1d262e" stroke-width="1.1"/>
<rect x="200.93" y="193.50" width="1.4" height="1.4" fill="#111"/>
<circle cx="201.63" cy="210.30" r="1.75" fill="#22475f"/>
<line x1="216.72" y1="195.90" x2="216.72" y2="236.30" stroke="#1d262e" stroke-width="1.05"/>
<line x1="215.72" y1="195.90" x2="217.72" y2="195.90" stroke="#1d262e" stroke-width="1.1"/>
<line x1="215.72" y1="236.30" x2="217.72" y2="236.30" stroke="#1d262e" stroke-width="1.1"/>
<circle cx="216.72" cy="216.30" r="1.75" fill="#22475f"/>
<line x1="231.82" y1="191.30" x2="231.82" y2="218.30" stroke="#1d262e" stroke-width="1.05"/>
<line x1="230.82" y1="191.30" x2="232.82" y2="191.30" stroke="#1d262e" stroke-width="1.1"/>
<line x1="230.82" y1="218.30" x2="232.82" y2="218.30" stroke="#1d262e" stroke-width="1.1"/>
<rect x="231.12" y="187.50" width="1.4" height="1.4" fill="#111"/>
<circle cx="231.82" cy="205.00" r="1.75" fill="#22475f"/>
<text x="264.60" y="161.00" font-size="10.8" text-anchor="start" font-weight="bold" fill="#000">D</text>
<text x="363.20" y="171.10" font-size="8.2" text-anchor="start" font-weight="normal" fill="#202020" stroke="#202020" stroke-width="0.25" textLength="100.00" lengthAdjust="spacingAndGlyphs">Absolute Reticulocyte Count</text>
<rect x="313.80" y="187.00" width="30.30" height="72.60" fill="#e8f5fb"/>
<text transform="translate(276.68,220.70) rotate(-90)" x="0" y="0" font-size="7.8" font-weight="normal" text-anchor="middle" fill="#202020" stroke="#202020" stroke-width="0.45" textLength="68.60" lengthAdjust="spacingAndGlyphs">Mean (±SD) change in Abs.</text>
<text transform="translate(286.68,219.70) rotate(-90)" x="0" y="0" font-size="7.8" font-weight="normal" text-anchor="middle" fill="#202020" stroke="#202020" stroke-width="0.45" textLength="70.60" lengthAdjust="spacingAndGlyphs">Retic (k/mcL) from baseline</text>
<line x1="309.70" y1="183.90" x2="312.30" y2="183.90" stroke="#1e1e1e" stroke-width="1.1"/>
<text x="305.70" y="185.90" font-size="5.8" text-anchor="end" font-weight="normal" fill="#202020" stroke="#202020" stroke-width="0.15" textLength="10.35" lengthAdjust="spacingAndGlyphs">150</text>
<line x1="309.70" y1="196.50" x2="312.30" y2="196.50" stroke="#1e1e1e" stroke-width="1.1"/>
<text x="305.70" y="198.50" font-size="5.8" text-anchor="end" font-weight="normal" fill="#202020" stroke="#202020" stroke-width="0.15" textLength="10.35" lengthAdjust="spacingAndGlyphs">100</text>
<line x1="309.70" y1="209.10" x2="312.30" y2="209.10" stroke="#1e1e1e" stroke-width="1.1"/>
<text x="305.70" y="211.10" font-size="5.8" text-anchor="end" font-weight="normal" fill="#202020" stroke="#202020" stroke-width="0.15" textLength="6.90" lengthAdjust="spacingAndGlyphs">50</text>
<line x1="309.70" y1="221.60" x2="312.30" y2="221.60" stroke="#1e1e1e" stroke-width="1.1"/>
<text x="305.70" y="223.60" font-size="5.8" text-anchor="end" font-weight="normal" fill="#202020" stroke="#202020" stroke-width="0.15" textLength="3.45" lengthAdjust="spacingAndGlyphs">0</text>
<line x1="309.70" y1="234.30" x2="312.30" y2="234.30" stroke="#1e1e1e" stroke-width="1.1"/>
<text x="305.70" y="236.30" font-size="5.8" text-anchor="end" font-weight="normal" fill="#202020" stroke="#202020" stroke-width="0.15" textLength="10.53" lengthAdjust="spacingAndGlyphs">−50</text>
<line x1="309.70" y1="246.90" x2="312.30" y2="246.90" stroke="#1e1e1e" stroke-width="1.1"/>
<text x="305.70" y="248.90" font-size="5.8" text-anchor="end" font-weight="normal" fill="#202020" stroke="#202020" stroke-width="0.15" textLength="13.98" lengthAdjust="spacingAndGlyphs">−100</text>
<line x1="309.70" y1="259.40" x2="312.30" y2="259.40" stroke="#1e1e1e" stroke-width="1.1"/>
<text x="305.70" y="261.40" font-size="5.8" text-anchor="end" font-weight="normal" fill="#202020" stroke="#202020" stroke-width="0.15" textLength="13.98" lengthAdjust="spacingAndGlyphs">−150</text>
<text x="313.90" y="182.00" font-size="6.3" text-anchor="start" font-weight="normal" fill="#202020" stroke="#202020" stroke-width="0.12" textLength="31.30" lengthAdjust="spacingAndGlyphs">Core Period</text>
<text x="406.60" y="181.80" font-size="6.3" text-anchor="start" font-weight="normal" fill="#202020" stroke="#202020" stroke-width="0.12" textLength="43.40" lengthAdjust="spacingAndGlyphs">Extension Period</text>
<line x1="316.80" y1="186.40" x2="340.00" y2="186.40" stroke="#a8a8b4" stroke-width="0.9" stroke-dasharray="1.6,2.2"/>
<polygon points="314.80,186.40 317.00,185.08 317.00,187.72" fill="#b4b4c4"/>
<polygon points="342.00,186.40 339.80,185.08 339.80,187.72" fill="#c8a8bc"/>
<line x1="349.00" y1="186.30" x2="507.70" y2="186.30" stroke="#4896bb" stroke-width="0.9" stroke-dasharray="4.6,2.9"/>
<polygon points="346.80,186.30 350.00,184.38 350.00,188.22" fill="#2f8aa0"/>
<polygon points="509.90,186.30 506.50,184.26 506.50,188.34" fill="#3a8ca8"/>
<line x1="312.30" y1="222.00" x2="513.50" y2="222.00" stroke="#2e2e2e" stroke-width="1.5"/>
<line x1="312.30" y1="181.00" x2="312.30" y2="260.40" stroke="#1e1e1e" stroke-width="1.7"/>
<line x1="309.90" y1="259.60" x2="513.50" y2="259.60" stroke="#1e1e1e" stroke-width="1.6"/>
<line x1="316.80" y1="259.60" x2="316.80" y2="262.60" stroke="#1e1e1e" stroke-width="1.1"/>
<text x="316.80" y="270.80" font-size="6.3" text-anchor="middle" font-weight="normal" fill="#202020" stroke="#202020" stroke-width="0.12" textLength="3.43" lengthAdjust="spacingAndGlyphs">4</text>
<text x="316.80" y="280.70" font-size="6.3" text-anchor="middle" font-weight="normal" fill="#202020" stroke="#202020" stroke-width="0.12" textLength="6.87" lengthAdjust="spacingAndGlyphs">15</text>
<line x1="326.85" y1="259.60" x2="326.85" y2="262.60" stroke="#1e1e1e" stroke-width="1.1"/>
<text x="326.85" y="270.80" font-size="6.3" text-anchor="middle" font-weight="normal" fill="#202020" stroke="#202020" stroke-width="0.12" textLength="6.87" lengthAdjust="spacingAndGlyphs">12</text>
<text x="326.85" y="280.70" font-size="6.3" text-anchor="middle" font-weight="normal" fill="#202020" stroke="#202020" stroke-width="0.12" textLength="6.87" lengthAdjust="spacingAndGlyphs">14</text>
<line x1="341.92" y1="259.60" x2="341.92" y2="262.60" stroke="#1e1e1e" stroke-width="1.1"/>
<text x="341.92" y="270.80" font-size="6.3" text-anchor="middle" font-weight="normal" fill="#202020" stroke="#202020" stroke-width="0.12" textLength="6.87" lengthAdjust="spacingAndGlyphs">24</text>
<text x="341.92" y="280.70" font-size="6.3" text-anchor="middle" font-weight="normal" fill="#202020" stroke="#202020" stroke-width="0.12" textLength="6.87" lengthAdjust="spacingAndGlyphs">15</text>
<line x1="372.06" y1="259.60" x2="372.06" y2="262.60" stroke="#1e1e1e" stroke-width="1.1"/>
<text x="372.06" y="270.80" font-size="6.3" text-anchor="middle" font-weight="normal" fill="#202020" stroke="#202020" stroke-width="0.12" textLength="6.87" lengthAdjust="spacingAndGlyphs">48</text>
<text x="372.06" y="280.70" font-size="6.3" text-anchor="middle" font-weight="normal" fill="#202020" stroke="#202020" stroke-width="0.12" textLength="6.87" lengthAdjust="spacingAndGlyphs">13</text>
<line x1="402.21" y1="259.60" x2="402.21" y2="262.60" stroke="#1e1e1e" stroke-width="1.1"/>
<text x="402.21" y="270.80" font-size="6.3" text-anchor="middle" font-weight="normal" fill="#202020" stroke="#202020" stroke-width="0.12" textLength="6.87" lengthAdjust="spacingAndGlyphs">72</text>
<text x="402.21" y="280.70" font-size="6.3" text-anchor="middle" font-weight="normal" fill="#202020" stroke="#202020" stroke-width="0.12" textLength="6.87" lengthAdjust="spacingAndGlyphs">14</text>
<line x1="432.35" y1="259.60" x2="432.35" y2="262.60" stroke="#1e1e1e" stroke-width="1.1"/>
<text x="432.35" y="270.80" font-size="6.3" text-anchor="middle" font-weight="normal" fill="#202020" stroke="#202020" stroke-width="0.12" textLength="6.87" lengthAdjust="spacingAndGlyphs">96</text>
<text x="432.35" y="280.70" font-size="6.3" text-anchor="middle" font-weight="normal" fill="#202020" stroke="#202020" stroke-width="0.12" textLength="6.87" lengthAdjust="spacingAndGlyphs">13</text>
<line x1="447.42" y1="259.60" x2="447.42" y2="262.60" stroke="#1e1e1e" stroke-width="1.1"/>
<text x="447.42" y="270.80" font-size="6.3" text-anchor="middle" font-weight="normal" fill="#202020" stroke="#202020" stroke-width="0.12" textLength="10.30" lengthAdjust="spacingAndGlyphs">108</text>
<text x="447.42" y="280.70" font-size="6.3" text-anchor="middle" font-weight="normal" fill="#202020" stroke="#202020" stroke-width="0.12" textLength="6.87" lengthAdjust="spacingAndGlyphs">12</text>
<line x1="462.50" y1="259.60" x2="462.50" y2="262.60" stroke="#1e1e1e" stroke-width="1.1"/>
<text x="462.50" y="270.80" font-size="6.3" text-anchor="middle" font-weight="normal" fill="#202020" stroke="#202020" stroke-width="0.12" textLength="10.30" lengthAdjust="spacingAndGlyphs">120</text>
<text x="462.50" y="280.70" font-size="6.3" text-anchor="middle" font-weight="normal" fill="#202020" stroke="#202020" stroke-width="0.12" textLength="3.43" lengthAdjust="spacingAndGlyphs">9</text>
<line x1="477.57" y1="259.60" x2="477.57" y2="262.60" stroke="#1e1e1e" stroke-width="1.1"/>
<text x="477.57" y="270.80" font-size="6.3" text-anchor="middle" font-weight="normal" fill="#202020" stroke="#202020" stroke-width="0.12" textLength="10.30" lengthAdjust="spacingAndGlyphs">132</text>
<text x="477.57" y="280.70" font-size="6.3" text-anchor="middle" font-weight="normal" fill="#202020" stroke="#202020" stroke-width="0.12" textLength="3.43" lengthAdjust="spacingAndGlyphs">9</text>
<line x1="492.64" y1="259.60" x2="492.64" y2="262.60" stroke="#1e1e1e" stroke-width="1.1"/>
<text x="492.64" y="270.80" font-size="6.3" text-anchor="middle" font-weight="normal" fill="#202020" stroke="#202020" stroke-width="0.12" textLength="10.30" lengthAdjust="spacingAndGlyphs">144</text>
<text x="492.64" y="280.70" font-size="6.3" text-anchor="middle" font-weight="normal" fill="#202020" stroke="#202020" stroke-width="0.12" textLength="3.43" lengthAdjust="spacingAndGlyphs">6</text>
<text x="308.60" y="270.80" font-size="6.3" text-anchor="end" font-weight="normal" fill="#202020" stroke="#202020" stroke-width="0.12" textLength="14.80" lengthAdjust="spacingAndGlyphs">Week</text>
<text x="308.60" y="280.70" font-size="6.3" text-anchor="end" font-weight="normal" fill="#202020" stroke="#202020" stroke-width="0.12" textLength="4.46" lengthAdjust="spacingAndGlyphs">N</text>
<line x1="316.80" y1="208.90" x2="316.80" y2="243.20" stroke="#1d262e" stroke-width="1.05"/>
<line x1="315.80" y1="208.90" x2="317.80" y2="208.90" stroke="#1d262e" stroke-width="1.1"/>
<line x1="315.80" y1="243.20" x2="317.80" y2="243.20" stroke="#1d262e" stroke-width="1.1"/>
<circle cx="316.80" cy="225.90" r="1.75" fill="#22475f"/>
<line x1="326.85" y1="207.80" x2="326.85" y2="247.30" stroke="#1d262e" stroke-width="1.05"/>
<line x1="325.85" y1="207.80" x2="327.85" y2="207.80" stroke="#1d262e" stroke-width="1.1"/>
<line x1="325.85" y1="247.30" x2="327.85" y2="247.30" stroke="#1d262e" stroke-width="1.1"/>
<circle cx="326.85" cy="227.60" r="1.75" fill="#22475f"/>
<line x1="341.92" y1="206.20" x2="341.92" y2="242.60" stroke="#1d262e" stroke-width="1.05"/>
<line x1="340.92" y1="206.20" x2="342.92" y2="206.20" stroke="#1d262e" stroke-width="1.1"/>
<line x1="340.92" y1="242.60" x2="342.92" y2="242.60" stroke="#1d262e" stroke-width="1.1"/>
<circle cx="341.92" cy="224.50" r="1.75" fill="#22475f"/>
<line x1="372.06" y1="198.90" x2="372.06" y2="240.50" stroke="#1d262e" stroke-width="1.05"/>
<line x1="371.06" y1="198.90" x2="373.06" y2="198.90" stroke="#1d262e" stroke-width="1.1"/>
<line x1="371.06" y1="240.50" x2="373.06" y2="240.50" stroke="#1d262e" stroke-width="1.1"/>
<circle cx="372.06" cy="219.70" r="1.75" fill="#22475f"/>
<line x1="402.21" y1="197.10" x2="402.21" y2="249.00" stroke="#1d262e" stroke-width="1.05"/>
<line x1="401.21" y1="197.10" x2="403.21" y2="197.10" stroke="#1d262e" stroke-width="1.1"/>
<line x1="401.21" y1="249.00" x2="403.21" y2="249.00" stroke="#1d262e" stroke-width="1.1"/>
<circle cx="402.21" cy="222.60" r="1.75" fill="#22475f"/>
<line x1="432.35" y1="189.90" x2="432.35" y2="246.20" stroke="#1d262e" stroke-width="1.05"/>
<line x1="431.35" y1="189.90" x2="433.35" y2="189.90" stroke="#1d262e" stroke-width="1.1"/>
<line x1="431.35" y1="246.20" x2="433.35" y2="246.20" stroke="#1d262e" stroke-width="1.1"/>
<circle cx="432.35" cy="218.30" r="1.75" fill="#22475f"/>
<line x1="447.42" y1="204.30" x2="447.42" y2="238.20" stroke="#1d262e" stroke-width="1.05"/>
<line x1="446.42" y1="204.30" x2="448.42" y2="204.30" stroke="#1d262e" stroke-width="1.1"/>
<line x1="446.42" y1="238.20" x2="448.42" y2="238.20" stroke="#1d262e" stroke-width="1.1"/>
<circle cx="447.42" cy="220.70" r="1.75" fill="#22475f"/>
<line x1="462.50" y1="202.60" x2="462.50" y2="237.00" stroke="#1d262e" stroke-width="1.05"/>
<line x1="461.50" y1="202.60" x2="463.50" y2="202.60" stroke="#1d262e" stroke-width="1.1"/>
<line x1="461.50" y1="237.00" x2="463.50" y2="237.00" stroke="#1d262e" stroke-width="1.1"/>
<circle cx="462.50" cy="220.00" r="1.75" fill="#22475f"/>
<line x1="477.57" y1="200.70" x2="477.57" y2="239.20" stroke="#1d262e" stroke-width="1.05"/>
<line x1="476.57" y1="200.70" x2="478.57" y2="200.70" stroke="#1d262e" stroke-width="1.1"/>
<line x1="476.57" y1="239.20" x2="478.57" y2="239.20" stroke="#1d262e" stroke-width="1.1"/>
<circle cx="477.57" cy="220.00" r="1.75" fill="#22475f"/>
<line x1="492.64" y1="210.30" x2="492.64" y2="233.20" stroke="#1d262e" stroke-width="1.05"/>
<line x1="491.64" y1="210.30" x2="493.64" y2="210.30" stroke="#1d262e" stroke-width="1.1"/>
<line x1="491.64" y1="233.20" x2="493.64" y2="233.20" stroke="#1d262e" stroke-width="1.1"/>
<circle cx="492.64" cy="221.40" r="1.75" fill="#22475f"/>
<text x="6.70" y="306.20" font-size="10.8" text-anchor="start" font-weight="bold" fill="#000">E</text>
<text x="144.30" y="316.50" font-size="8.2" text-anchor="start" font-weight="normal" fill="#202020" stroke="#202020" stroke-width="0.25" textLength="14.20" lengthAdjust="spacingAndGlyphs">p50</text>
<rect x="52.10" y="333.70" width="28.80" height="70.60" fill="#e8f5fb"/>
<text transform="translate(14.08,364.70) rotate(-90)" x="0" y="0" font-size="7.8" font-weight="normal" text-anchor="middle" fill="#202020" stroke="#202020" stroke-width="0.45" textLength="74.80" lengthAdjust="spacingAndGlyphs">Mean (±SD) % change in p50</text>
<text transform="translate(24.18,364.20) rotate(-90)" x="0" y="0" font-size="7.8" font-weight="normal" text-anchor="middle" fill="#202020" stroke="#202020" stroke-width="0.45" textLength="36.40" lengthAdjust="spacingAndGlyphs">from baseline</text>
<line x1="48.00" y1="329.60" x2="50.60" y2="329.60" stroke="#1e1e1e" stroke-width="1.1"/>
<text x="44.80" y="331.60" font-size="5.8" text-anchor="end" font-weight="normal" fill="#202020" stroke="#202020" stroke-width="0.15" textLength="12.42" lengthAdjust="spacingAndGlyphs">10%</text>
<line x1="48.00" y1="344.10" x2="50.60" y2="344.10" stroke="#1e1e1e" stroke-width="1.1"/>
<text x="44.80" y="346.10" font-size="5.8" text-anchor="end" font-weight="normal" fill="#202020" stroke="#202020" stroke-width="0.15" textLength="8.97" lengthAdjust="spacingAndGlyphs">0%</text>
<line x1="48.00" y1="358.20" x2="50.60" y2="358.20" stroke="#1e1e1e" stroke-width="1.1"/>
<text x="44.80" y="360.20" font-size="5.8" text-anchor="end" font-weight="normal" fill="#202020" stroke="#202020" stroke-width="0.15" textLength="16.05" lengthAdjust="spacingAndGlyphs">−10%</text>
<line x1="48.00" y1="372.20" x2="50.60" y2="372.20" stroke="#1e1e1e" stroke-width="1.1"/>
<text x="44.80" y="374.20" font-size="5.8" text-anchor="end" font-weight="normal" fill="#202020" stroke="#202020" stroke-width="0.15" textLength="16.05" lengthAdjust="spacingAndGlyphs">−20%</text>
<line x1="48.00" y1="386.10" x2="50.60" y2="386.10" stroke="#1e1e1e" stroke-width="1.1"/>
<text x="44.80" y="388.10" font-size="5.8" text-anchor="end" font-weight="normal" fill="#202020" stroke="#202020" stroke-width="0.15" textLength="16.05" lengthAdjust="spacingAndGlyphs">−30%</text>
<line x1="48.00" y1="399.80" x2="50.60" y2="399.80" stroke="#1e1e1e" stroke-width="1.1"/>
<text x="44.80" y="401.80" font-size="5.8" text-anchor="end" font-weight="normal" fill="#202020" stroke="#202020" stroke-width="0.15" textLength="16.05" lengthAdjust="spacingAndGlyphs">−40%</text>
<text x="52.20" y="328.50" font-size="6.3" text-anchor="start" font-weight="normal" fill="#202020" stroke="#202020" stroke-width="0.12" textLength="31.30" lengthAdjust="spacingAndGlyphs">Core Period</text>
<text x="139.90" y="328.50" font-size="6.3" text-anchor="start" font-weight="normal" fill="#202020" stroke="#202020" stroke-width="0.12" textLength="43.40" lengthAdjust="spacingAndGlyphs">Extension Period</text>
<line x1="55.00" y1="333.10" x2="77.60" y2="333.10" stroke="#a8a8b4" stroke-width="0.9" stroke-dasharray="1.6,2.2"/>
<polygon points="53.00,333.10 55.20,331.78 55.20,334.42" fill="#b4b4c4"/>
<polygon points="79.60,333.10 77.40,331.78 77.40,334.42" fill="#c8a8bc"/>
<line x1="84.80" y1="333.00" x2="237.60" y2="333.00" stroke="#4896bb" stroke-width="0.9" stroke-dasharray="4.6,2.9"/>
<polygon points="82.60,333.00 85.80,331.08 85.80,334.92" fill="#2f8aa0"/>
<polygon points="239.80,333.00 236.40,330.96 236.40,335.04" fill="#3a8ca8"/>
<line x1="50.60" y1="344.50" x2="253.00" y2="344.50" stroke="#2e2e2e" stroke-width="1.5"/>
<line x1="50.60" y1="326.50" x2="50.60" y2="405.10" stroke="#1e1e1e" stroke-width="1.7"/>
<line x1="48.20" y1="404.30" x2="253.00" y2="404.30" stroke="#1e1e1e" stroke-width="1.6"/>
<line x1="55.40" y1="404.30" x2="55.40" y2="407.30" stroke="#1e1e1e" stroke-width="1.1"/>
<text x="55.40" y="416.20" font-size="6.3" text-anchor="middle" font-weight="normal" fill="#202020" stroke="#202020" stroke-width="0.12" textLength="3.43" lengthAdjust="spacingAndGlyphs">4</text>
<text x="55.40" y="425.90" font-size="6.3" text-anchor="middle" font-weight="normal" fill="#202020" stroke="#202020" stroke-width="0.12" textLength="6.41" lengthAdjust="spacingAndGlyphs">11</text>
<line x1="65.47" y1="404.30" x2="65.47" y2="407.30" stroke="#1e1e1e" stroke-width="1.1"/>
<text x="65.47" y="416.20" font-size="6.3" text-anchor="middle" font-weight="normal" fill="#202020" stroke="#202020" stroke-width="0.12" textLength="6.87" lengthAdjust="spacingAndGlyphs">12</text>
<text x="65.47" y="425.90" font-size="6.3" text-anchor="middle" font-weight="normal" fill="#202020" stroke="#202020" stroke-width="0.12" textLength="6.87" lengthAdjust="spacingAndGlyphs">10</text>
<line x1="80.58" y1="404.30" x2="80.58" y2="407.30" stroke="#1e1e1e" stroke-width="1.1"/>
<text x="80.58" y="416.20" font-size="6.3" text-anchor="middle" font-weight="normal" fill="#202020" stroke="#202020" stroke-width="0.12" textLength="6.87" lengthAdjust="spacingAndGlyphs">24</text>
<text x="80.58" y="425.90" font-size="6.3" text-anchor="middle" font-weight="normal" fill="#202020" stroke="#202020" stroke-width="0.12" textLength="6.87" lengthAdjust="spacingAndGlyphs">10</text>
<line x1="110.80" y1="404.30" x2="110.80" y2="407.30" stroke="#1e1e1e" stroke-width="1.1"/>
<text x="110.80" y="416.20" font-size="6.3" text-anchor="middle" font-weight="normal" fill="#202020" stroke="#202020" stroke-width="0.12" textLength="6.87" lengthAdjust="spacingAndGlyphs">48</text>
<text x="110.80" y="425.90" font-size="6.3" text-anchor="middle" font-weight="normal" fill="#202020" stroke="#202020" stroke-width="0.12" textLength="6.87" lengthAdjust="spacingAndGlyphs">10</text>
<line x1="141.01" y1="404.30" x2="141.01" y2="407.30" stroke="#1e1e1e" stroke-width="1.1"/>
<text x="141.01" y="416.20" font-size="6.3" text-anchor="middle" font-weight="normal" fill="#202020" stroke="#202020" stroke-width="0.12" textLength="6.87" lengthAdjust="spacingAndGlyphs">72</text>
<text x="141.01" y="425.90" font-size="6.3" text-anchor="middle" font-weight="normal" fill="#202020" stroke="#202020" stroke-width="0.12" textLength="6.87" lengthAdjust="spacingAndGlyphs">12</text>
<line x1="171.23" y1="404.30" x2="171.23" y2="407.30" stroke="#1e1e1e" stroke-width="1.1"/>
<text x="171.23" y="416.20" font-size="6.3" text-anchor="middle" font-weight="normal" fill="#202020" stroke="#202020" stroke-width="0.12" textLength="6.87" lengthAdjust="spacingAndGlyphs">96</text>
<text x="171.23" y="425.90" font-size="6.3" text-anchor="middle" font-weight="normal" fill="#202020" stroke="#202020" stroke-width="0.12" textLength="6.41" lengthAdjust="spacingAndGlyphs">11</text>
<line x1="201.44" y1="404.30" x2="201.44" y2="407.30" stroke="#1e1e1e" stroke-width="1.1"/>
<text x="201.44" y="416.20" font-size="6.3" text-anchor="middle" font-weight="normal" fill="#202020" stroke="#202020" stroke-width="0.12" textLength="10.30" lengthAdjust="spacingAndGlyphs">120</text>
<text x="201.44" y="425.90" font-size="6.3" text-anchor="middle" font-weight="normal" fill="#202020" stroke="#202020" stroke-width="0.12" textLength="3.43" lengthAdjust="spacingAndGlyphs">7</text>
<line x1="231.66" y1="404.30" x2="231.66" y2="407.30" stroke="#1e1e1e" stroke-width="1.1"/>
<text x="231.66" y="416.20" font-size="6.3" text-anchor="middle" font-weight="normal" fill="#202020" stroke="#202020" stroke-width="0.12" textLength="10.30" lengthAdjust="spacingAndGlyphs">144</text>
<text x="231.66" y="425.90" font-size="6.3" text-anchor="middle" font-weight="normal" fill="#202020" stroke="#202020" stroke-width="0.12" textLength="3.43" lengthAdjust="spacingAndGlyphs">6</text>
<text x="46.90" y="416.20" font-size="6.3" text-anchor="end" font-weight="normal" fill="#202020" stroke="#202020" stroke-width="0.12" textLength="14.80" lengthAdjust="spacingAndGlyphs">Week</text>
<text x="46.90" y="425.90" font-size="6.3" text-anchor="end" font-weight="normal" fill="#202020" stroke="#202020" stroke-width="0.12" textLength="4.46" lengthAdjust="spacingAndGlyphs">N</text>
<line x1="55.40" y1="345.10" x2="55.40" y2="372.20" stroke="#1d262e" stroke-width="1.05"/>
<line x1="54.40" y1="345.10" x2="56.40" y2="345.10" stroke="#1d262e" stroke-width="1.1"/>
<line x1="54.40" y1="372.20" x2="56.40" y2="372.20" stroke="#1d262e" stroke-width="1.1"/>
<rect x="54.70" y="374.60" width="1.4" height="1.4" fill="#111"/>
<circle cx="55.40" cy="358.20" r="1.75" fill="#22475f"/>
<line x1="65.47" y1="351.40" x2="65.47" y2="384.60" stroke="#1d262e" stroke-width="1.05"/>
<line x1="64.47" y1="351.40" x2="66.47" y2="351.40" stroke="#1d262e" stroke-width="1.1"/>
<line x1="64.47" y1="384.60" x2="66.47" y2="384.60" stroke="#1d262e" stroke-width="1.1"/>
<rect x="64.77" y="387.10" width="1.4" height="1.4" fill="#111"/>
<circle cx="65.47" cy="367.60" r="1.75" fill="#22475f"/>
<line x1="80.58" y1="349.30" x2="80.58" y2="374.30" stroke="#1d262e" stroke-width="1.05"/>
<line x1="79.58" y1="349.30" x2="81.58" y2="349.30" stroke="#1d262e" stroke-width="1.1"/>
<line x1="79.58" y1="374.30" x2="81.58" y2="374.30" stroke="#1d262e" stroke-width="1.1"/>
<rect x="79.88" y="376.70" width="1.4" height="1.4" fill="#111"/>
<circle cx="80.58" cy="361.80" r="1.75" fill="#22475f"/>
<line x1="110.80" y1="346.60" x2="110.80" y2="371.10" stroke="#1d262e" stroke-width="1.05"/>
<line x1="109.80" y1="346.60" x2="111.80" y2="346.60" stroke="#1d262e" stroke-width="1.1"/>
<line x1="109.80" y1="371.10" x2="111.80" y2="371.10" stroke="#1d262e" stroke-width="1.1"/>
<rect x="110.10" y="374.60" width="1.4" height="1.4" fill="#111"/>
<circle cx="110.80" cy="359.10" r="1.75" fill="#22475f"/>
<line x1="141.01" y1="347.90" x2="141.01" y2="377.50" stroke="#1d262e" stroke-width="1.05"/>
<line x1="140.01" y1="347.90" x2="142.01" y2="347.90" stroke="#1d262e" stroke-width="1.1"/>
<line x1="140.01" y1="377.50" x2="142.01" y2="377.50" stroke="#1d262e" stroke-width="1.1"/>
<rect x="140.31" y="379.70" width="1.4" height="1.4" fill="#111"/>
<circle cx="141.01" cy="362.60" r="1.75" fill="#22475f"/>
<line x1="171.23" y1="344.30" x2="171.23" y2="384.70" stroke="#1d262e" stroke-width="1.05"/>
<line x1="170.23" y1="344.30" x2="172.23" y2="344.30" stroke="#1d262e" stroke-width="1.1"/>
<line x1="170.23" y1="384.70" x2="172.23" y2="384.70" stroke="#1d262e" stroke-width="1.1"/>
<rect x="170.53" y="388.30" width="1.4" height="1.4" fill="#111"/>
<circle cx="171.23" cy="365.00" r="1.75" fill="#22475f"/>
<line x1="201.44" y1="343.40" x2="201.44" y2="382.30" stroke="#1d262e" stroke-width="1.05"/>
<line x1="200.44" y1="343.40" x2="202.44" y2="343.40" stroke="#1d262e" stroke-width="1.1"/>
<line x1="200.44" y1="382.30" x2="202.44" y2="382.30" stroke="#1d262e" stroke-width="1.1"/>
<rect x="200.74" y="384.50" width="1.4" height="1.4" fill="#111"/>
<circle cx="201.44" cy="362.60" r="1.75" fill="#22475f"/>
<line x1="231.66" y1="353.50" x2="231.66" y2="400.30" stroke="#1d262e" stroke-width="1.05"/>
<line x1="230.66" y1="353.50" x2="232.66" y2="353.50" stroke="#1d262e" stroke-width="1.1"/>
<line x1="230.66" y1="400.30" x2="232.66" y2="400.30" stroke="#1d262e" stroke-width="1.1"/>
<rect x="230.96" y="401.80" width="1.4" height="1.4" fill="#111"/>
<circle cx="231.66" cy="376.30" r="1.75" fill="#22475f"/>
<text x="264.60" y="306.30" font-size="10.8" text-anchor="start" font-weight="bold" fill="#000">F</text>
<text x="406.90" y="316.50" font-size="8.2" text-anchor="start" font-weight="normal" fill="#202020" stroke="#202020" stroke-width="0.25" textLength="11.30" lengthAdjust="spacingAndGlyphs">t50</text>
<rect x="313.10" y="331.20" width="30.50" height="73.10" fill="#e8f5fb"/>
<text transform="translate(271.68,367.80) rotate(-90)" x="0" y="0" font-size="7.8" font-weight="normal" text-anchor="middle" fill="#202020" stroke="#202020" stroke-width="0.45" textLength="74.80" lengthAdjust="spacingAndGlyphs">Mean (±SD) % change in t50</text>
<text transform="translate(281.18,367.80) rotate(-90)" x="0" y="0" font-size="7.8" font-weight="normal" text-anchor="middle" fill="#202020" stroke="#202020" stroke-width="0.45" textLength="35.40" lengthAdjust="spacingAndGlyphs">from baseline</text>
<line x1="309.00" y1="328.80" x2="311.60" y2="328.80" stroke="#1e1e1e" stroke-width="1.1"/>
<text x="305.70" y="330.80" font-size="5.8" text-anchor="end" font-weight="normal" fill="#202020" stroke="#202020" stroke-width="0.15" textLength="15.87" lengthAdjust="spacingAndGlyphs">250%</text>
<line x1="309.00" y1="338.10" x2="311.60" y2="338.10" stroke="#1e1e1e" stroke-width="1.1"/>
<text x="305.70" y="340.10" font-size="5.8" text-anchor="end" font-weight="normal" fill="#202020" stroke="#202020" stroke-width="0.15" textLength="15.87" lengthAdjust="spacingAndGlyphs">200%</text>
<line x1="309.00" y1="357.30" x2="311.60" y2="357.30" stroke="#1e1e1e" stroke-width="1.1"/>
<text x="305.70" y="359.30" font-size="5.8" text-anchor="end" font-weight="normal" fill="#202020" stroke="#202020" stroke-width="0.15" textLength="15.87" lengthAdjust="spacingAndGlyphs">100%</text>
<line x1="309.00" y1="375.80" x2="311.60" y2="375.80" stroke="#1e1e1e" stroke-width="1.1"/>
<text x="305.70" y="377.80" font-size="5.8" text-anchor="end" font-weight="normal" fill="#202020" stroke="#202020" stroke-width="0.15" textLength="8.97" lengthAdjust="spacingAndGlyphs">0%</text>
<line x1="309.00" y1="394.50" x2="311.60" y2="394.50" stroke="#1e1e1e" stroke-width="1.1"/>
<text x="305.70" y="396.50" font-size="5.8" text-anchor="end" font-weight="normal" fill="#202020" stroke="#202020" stroke-width="0.15" textLength="19.50" lengthAdjust="spacingAndGlyphs">−100%</text>
<line x1="309.00" y1="404.30" x2="311.60" y2="404.30" stroke="#1e1e1e" stroke-width="1.1"/>
<text x="305.70" y="406.30" font-size="5.8" text-anchor="end" font-weight="normal" fill="#202020" stroke="#202020" stroke-width="0.15" textLength="19.50" lengthAdjust="spacingAndGlyphs">−150%</text>
<text x="312.90" y="326.60" font-size="6.3" text-anchor="start" font-weight="normal" fill="#202020" stroke="#202020" stroke-width="0.12" textLength="31.30" lengthAdjust="spacingAndGlyphs">Core Period</text>
<text x="400.00" y="326.60" font-size="6.3" text-anchor="start" font-weight="normal" fill="#202020" stroke="#202020" stroke-width="0.12" textLength="43.40" lengthAdjust="spacingAndGlyphs">Extension Period</text>
<line x1="316.00" y1="330.60" x2="339.00" y2="330.60" stroke="#a8a8b4" stroke-width="0.9" stroke-dasharray="1.6,2.2"/>
<polygon points="314.00,330.60 316.20,329.28 316.20,331.92" fill="#b4b4c4"/>
<polygon points="341.00,330.60 338.80,329.28 338.80,331.92" fill="#c8a8bc"/>
<line x1="348.20" y1="331.00" x2="495.00" y2="331.00" stroke="#4896bb" stroke-width="0.9" stroke-dasharray="4.6,2.9"/>
<polygon points="346.00,331.00 349.20,329.08 349.20,332.92" fill="#2f8aa0"/>
<polygon points="497.20,331.00 493.80,328.96 493.80,333.04" fill="#3a8ca8"/>
<line x1="311.60" y1="376.00" x2="513.50" y2="376.00" stroke="#2e2e2e" stroke-width="1.5"/>
<line x1="311.60" y1="326.00" x2="311.60" y2="405.10" stroke="#1e1e1e" stroke-width="1.7"/>
<line x1="309.20" y1="404.30" x2="513.50" y2="404.30" stroke="#1e1e1e" stroke-width="1.6"/>
<line x1="316.40" y1="404.30" x2="316.40" y2="407.30" stroke="#1e1e1e" stroke-width="1.1"/>
<text x="316.40" y="416.20" font-size="6.3" text-anchor="middle" font-weight="normal" fill="#202020" stroke="#202020" stroke-width="0.12" textLength="3.43" lengthAdjust="spacingAndGlyphs">4</text>
<text x="316.40" y="425.90" font-size="6.3" text-anchor="middle" font-weight="normal" fill="#202020" stroke="#202020" stroke-width="0.12" textLength="6.87" lengthAdjust="spacingAndGlyphs">13</text>
<line x1="326.48" y1="404.30" x2="326.48" y2="407.30" stroke="#1e1e1e" stroke-width="1.1"/>
<text x="326.48" y="416.20" font-size="6.3" text-anchor="middle" font-weight="normal" fill="#202020" stroke="#202020" stroke-width="0.12" textLength="6.87" lengthAdjust="spacingAndGlyphs">12</text>
<text x="326.48" y="425.90" font-size="6.3" text-anchor="middle" font-weight="normal" fill="#202020" stroke="#202020" stroke-width="0.12" textLength="6.87" lengthAdjust="spacingAndGlyphs">12</text>
<line x1="341.60" y1="404.30" x2="341.60" y2="407.30" stroke="#1e1e1e" stroke-width="1.1"/>
<text x="341.60" y="416.20" font-size="6.3" text-anchor="middle" font-weight="normal" fill="#202020" stroke="#202020" stroke-width="0.12" textLength="6.87" lengthAdjust="spacingAndGlyphs">24</text>
<text x="341.60" y="425.90" font-size="6.3" text-anchor="middle" font-weight="normal" fill="#202020" stroke="#202020" stroke-width="0.12" textLength="6.87" lengthAdjust="spacingAndGlyphs">13</text>
<line x1="371.84" y1="404.30" x2="371.84" y2="407.30" stroke="#1e1e1e" stroke-width="1.1"/>
<text x="371.84" y="416.20" font-size="6.3" text-anchor="middle" font-weight="normal" fill="#202020" stroke="#202020" stroke-width="0.12" textLength="6.87" lengthAdjust="spacingAndGlyphs">48</text>
<text x="371.84" y="425.90" font-size="6.3" text-anchor="middle" font-weight="normal" fill="#202020" stroke="#202020" stroke-width="0.12" textLength="6.41" lengthAdjust="spacingAndGlyphs">11</text>
<line x1="402.08" y1="404.30" x2="402.08" y2="407.30" stroke="#1e1e1e" stroke-width="1.1"/>
<text x="402.08" y="416.20" font-size="6.3" text-anchor="middle" font-weight="normal" fill="#202020" stroke="#202020" stroke-width="0.12" textLength="6.87" lengthAdjust="spacingAndGlyphs">72</text>
<text x="402.08" y="425.90" font-size="6.3" text-anchor="middle" font-weight="normal" fill="#202020" stroke="#202020" stroke-width="0.12" textLength="6.87" lengthAdjust="spacingAndGlyphs">12</text>
<line x1="432.32" y1="404.30" x2="432.32" y2="407.30" stroke="#1e1e1e" stroke-width="1.1"/>
<text x="432.32" y="416.20" font-size="6.3" text-anchor="middle" font-weight="normal" fill="#202020" stroke="#202020" stroke-width="0.12" textLength="6.87" lengthAdjust="spacingAndGlyphs">96</text>
<text x="432.32" y="425.90" font-size="6.3" text-anchor="middle" font-weight="normal" fill="#202020" stroke="#202020" stroke-width="0.12" textLength="6.41" lengthAdjust="spacingAndGlyphs">11</text>
<line x1="462.56" y1="404.30" x2="462.56" y2="407.30" stroke="#1e1e1e" stroke-width="1.1"/>
<text x="462.56" y="416.20" font-size="6.3" text-anchor="middle" font-weight="normal" fill="#202020" stroke="#202020" stroke-width="0.12" textLength="10.30" lengthAdjust="spacingAndGlyphs">120</text>
<text x="462.56" y="425.90" font-size="6.3" text-anchor="middle" font-weight="normal" fill="#202020" stroke="#202020" stroke-width="0.12" textLength="3.43" lengthAdjust="spacingAndGlyphs">6</text>
<line x1="492.80" y1="404.30" x2="492.80" y2="407.30" stroke="#1e1e1e" stroke-width="1.1"/>
<text x="492.80" y="416.20" font-size="6.3" text-anchor="middle" font-weight="normal" fill="#202020" stroke="#202020" stroke-width="0.12" textLength="10.30" lengthAdjust="spacingAndGlyphs">144</text>
<text x="492.80" y="425.90" font-size="6.3" text-anchor="middle" font-weight="normal" fill="#202020" stroke="#202020" stroke-width="0.12" textLength="3.43" lengthAdjust="spacingAndGlyphs">4</text>
<text x="308.50" y="416.20" font-size="6.3" text-anchor="end" font-weight="normal" fill="#202020" stroke="#202020" stroke-width="0.12" textLength="14.80" lengthAdjust="spacingAndGlyphs">Week</text>
<text x="308.50" y="425.90" font-size="6.3" text-anchor="end" font-weight="normal" fill="#202020" stroke="#202020" stroke-width="0.12" textLength="4.46" lengthAdjust="spacingAndGlyphs">N</text>
<line x1="316.40" y1="363.90" x2="316.40" y2="377.40" stroke="#1d262e" stroke-width="1.05"/>
<line x1="315.40" y1="363.90" x2="317.40" y2="363.90" stroke="#1d262e" stroke-width="1.1"/>
<line x1="315.40" y1="377.40" x2="317.40" y2="377.40" stroke="#1d262e" stroke-width="1.1"/>
<rect x="315.70" y="360.00" width="1.4" height="1.4" fill="#111"/>
<circle cx="316.40" cy="370.70" r="1.75" fill="#22475f"/>
<line x1="326.48" y1="355.50" x2="326.48" y2="378.00" stroke="#1d262e" stroke-width="1.05"/>
<line x1="325.48" y1="355.50" x2="327.48" y2="355.50" stroke="#1d262e" stroke-width="1.1"/>
<line x1="325.48" y1="378.00" x2="327.48" y2="378.00" stroke="#1d262e" stroke-width="1.1"/>
<rect x="325.78" y="351.70" width="1.4" height="1.4" fill="#111"/>
<circle cx="326.48" cy="366.60" r="1.75" fill="#22475f"/>
<line x1="341.60" y1="353.90" x2="341.60" y2="383.60" stroke="#1d262e" stroke-width="1.05"/>
<line x1="340.60" y1="353.90" x2="342.60" y2="353.90" stroke="#1d262e" stroke-width="1.1"/>
<line x1="340.60" y1="383.60" x2="342.60" y2="383.60" stroke="#1d262e" stroke-width="1.1"/>
<circle cx="341.60" cy="368.60" r="1.75" fill="#22475f"/>
<line x1="371.84" y1="357.60" x2="371.84" y2="384.60" stroke="#1d262e" stroke-width="1.05"/>
<line x1="370.84" y1="357.60" x2="372.84" y2="357.60" stroke="#1d262e" stroke-width="1.1"/>
<line x1="370.84" y1="384.60" x2="372.84" y2="384.60" stroke="#1d262e" stroke-width="1.1"/>
<circle cx="371.84" cy="371.10" r="1.75" fill="#22475f"/>
<line x1="402.08" y1="333.00" x2="402.08" y2="398.70" stroke="#1d262e" stroke-width="1.05"/>
<line x1="401.08" y1="333.00" x2="403.08" y2="333.00" stroke="#1d262e" stroke-width="1.1"/>
<line x1="401.08" y1="398.70" x2="403.08" y2="398.70" stroke="#1d262e" stroke-width="1.1"/>
<circle cx="402.08" cy="366.00" r="1.75" fill="#22475f"/>
<line x1="432.32" y1="363.60" x2="432.32" y2="384.00" stroke="#1d262e" stroke-width="1.05"/>
<line x1="431.32" y1="363.60" x2="433.32" y2="363.60" stroke="#1d262e" stroke-width="1.1"/>
<line x1="431.32" y1="384.00" x2="433.32" y2="384.00" stroke="#1d262e" stroke-width="1.1"/>
<circle cx="432.32" cy="373.90" r="1.75" fill="#22475f"/>
<line x1="462.56" y1="360.20" x2="462.56" y2="388.30" stroke="#1d262e" stroke-width="1.05"/>
<line x1="461.56" y1="360.20" x2="463.56" y2="360.20" stroke="#1d262e" stroke-width="1.1"/>
<line x1="461.56" y1="388.30" x2="463.56" y2="388.30" stroke="#1d262e" stroke-width="1.1"/>
<circle cx="462.56" cy="374.40" r="1.75" fill="#22475f"/>
<line x1="492.80" y1="375.10" x2="492.80" y2="384.20" stroke="#1d262e" stroke-width="1.05"/>
<line x1="491.80" y1="375.10" x2="493.80" y2="375.10" stroke="#1d262e" stroke-width="1.1"/>
<line x1="491.80" y1="384.20" x2="493.80" y2="384.20" stroke="#1d262e" stroke-width="1.1"/>
<circle cx="492.80" cy="379.40" r="1.75" fill="#22475f"/>
</g>
</svg>
</body></html>
